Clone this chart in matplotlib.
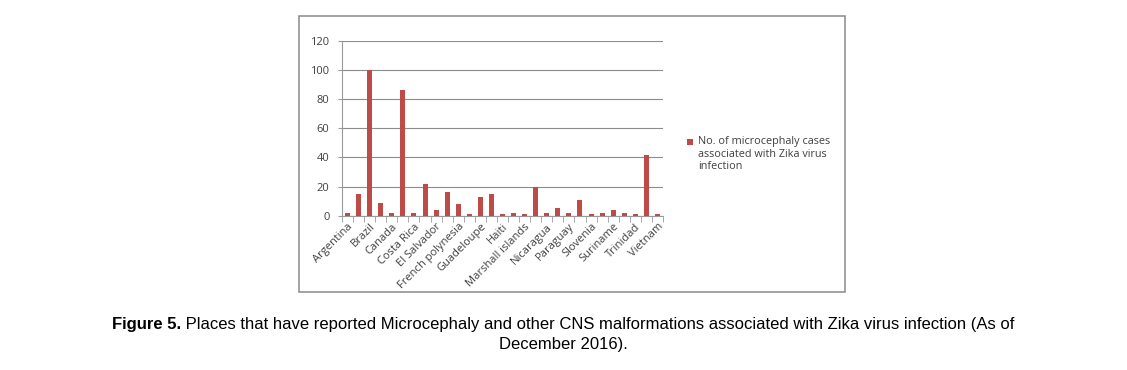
import matplotlib
matplotlib.use("Agg")
import matplotlib.pyplot as plt
from matplotlib.patches import Rectangle
import numpy as np

countries = ["Argentina", "Bolivia", "Brazil", "Cabo Verde", "Canada", "Colombia",
             "Costa Rica", "Dominican Republic", "El Salvador", "French Guiana",
             "French polynesia", "Grenada", "Guadeloupe", "Guatemala", "Haiti",
             "Honduras", "Marshall islands", "Martinique", "Nicaragua", "Panama",
             "Paraguay", "Puerto Rico", "Slovenia", "Spain", "Suriname", "Thailand",
             "Trinidad", "USA", "Vietnam"]
cases = [2, 15, 100, 9, 2, 86, 2, 22, 4, 16, 8, 1, 13, 15, 1, 2, 1, 20, 2, 5,
         2, 11, 1, 2, 4, 2, 1, 42, 1]
yticks = [0, 20, 40, 60, 80, 100, 120]
series_label = "No. of microcephaly cases\nassociated with Zika virus\ninfection"
caption_bold = "Figure 5."
caption_rest = " Places that have reported Microcephaly and other CNS malformations associated with Zika virus infection (As of"
caption_line2 = "December 2016)."

W, H = 1127, 370
fig = plt.figure(figsize=(W / 100, H / 100), dpi=100)

def fx(px):
    return px / W

def fy(py):
    return 1 - py / H

# outer chart frame
fig.patches.append(Rectangle((fx(299), fy(292)), fx(845) - fx(299), fy(16) - fy(292),
                             transform=fig.transFigure, fill=False,
                             edgecolor="#8a8a8a", linewidth=1.1))

ax = fig.add_axes([fx(342), fy(215.7), fx(663) - fx(342), fy(40.9) - fy(215.7)])
bar_color = "#BE4B48"
x = np.arange(len(countries))
ax.bar(x, cases, width=0.45, color=bar_color, zorder=3)
ax.set_xlim(-0.5, len(countries) - 0.5)
ax.set_ylim(0, 120)
ax.set_yticks(yticks)
ax.set_yticklabels([str(v) for v in yticks], fontsize=8, color="#404040", family="Open Sans")
ax.yaxis.grid(True, color="#8c8c8c", linewidth=0.8, zorder=0)
ax.set_axisbelow(True)
for s in ["top", "right"]:
    ax.spines[s].set_visible(False)
for s in ["left", "bottom"]:
    ax.spines[s].set_color("#9a9a9a")
    ax.spines[s].set_linewidth(0.8)
ax.tick_params(axis="y", length=3, color="#9a9a9a", pad=6)

ax.set_xticks(x)
ax.set_xticklabels([c if i % 2 == 0 else "" for i, c in enumerate(countries)],
                   rotation=45, ha="right", rotation_mode="anchor",
                   fontsize=8, color="#404040", family="Open Sans")
ax.tick_params(axis="x", which="major", length=0, pad=4)
ax.set_xticks(np.arange(-0.5, len(countries), 1), minor=True)
ax.tick_params(axis="x", which="minor", length=4, color="#9a9a9a", direction="out")

# legend
fig.patches.append(Rectangle((fx(687), fy(145)), fx(6), 6 / H, transform=fig.transFigure,
                             facecolor=bar_color, edgecolor="none"))
fig.text(fx(698), fy(136), series_label, fontsize=7.8, color="#404040",
         family="Open Sans", va="top", ha="left", linespacing=1.2)

# caption
fig.canvas.draw()
r = fig.canvas.get_renderer()
tb = fig.text(0, fy(325), caption_bold, fontsize=12, fontweight="bold",
              family="Liberation Sans", va="center", ha="left")
tr = fig.text(0, fy(325), caption_rest, fontsize=12,
              family="Liberation Sans", va="center", ha="left")
wb = tb.get_window_extent(r).width
wr = tr.get_window_extent(r).width
start = (W - (wb + wr)) / 2
tb.set_x(fx(start))
tr.set_x(fx(start + wb))
fig.text(0.5, fy(344), caption_line2, fontsize=12, family="Liberation Sans",
         va="center", ha="center")

fig.savefig("out.png", dpi=100)
